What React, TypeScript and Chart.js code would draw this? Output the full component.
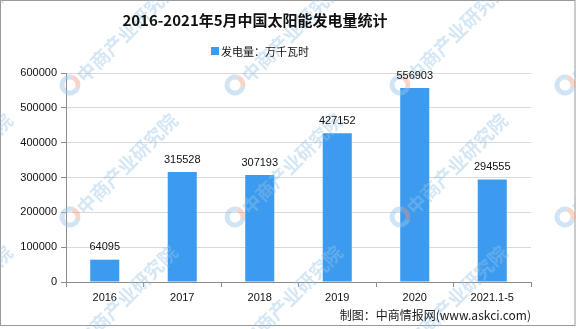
import React, { useEffect, useRef } from "react";
import { Chart, registerables } from "chart.js";

Chart.register(...registerables);

const categories = ["2016", "2017", "2018", "2019", "2020", "2021.1-5"];
const generation = [64095, 315528, 307193, 427152, 556903, 294555];
const yMax = 600000;
const yStep = 100000;
const titleText = "2016-2021年5月中国太阳能发电量统计";
const legendText = "发电量：万千瓦时";
const sourceText = "制图：中商情报网(www.askci.com)";
const seriesName = "发电量";
const watermarkText = "中商产业研究院";

const BAR_COLOR = "#3d9bef";
const NUM_FONT = '11px "Liberation Sans", Arial, sans-serif';
const CJK = '"Noto Sans CJK SC", "Noto Sans", sans-serif';

function drawWatermarks(ctx: CanvasRenderingContext2D) {
  ctx.save();
  for (let i = -1; i <= 3; i++) {
    for (let j = 0; j <= 2; j++) {
      const lx = 70 + 165 * i;
      const ly = 85 + 132 * j;
      // logo ring
      ctx.lineWidth = 5;
      ctx.strokeStyle = "rgba(150,195,230,0.45)";
      ctx.beginPath();
      ctx.arc(lx, ly, 8, Math.PI * 0.1, Math.PI * 1.6);
      ctx.stroke();
      ctx.strokeStyle = "rgba(240,150,120,0.4)";
      ctx.beginPath();
      ctx.arc(lx, ly, 8, Math.PI * 1.6, Math.PI * 2.1);
      ctx.stroke();
      // text
      ctx.save();
      ctx.translate(lx + 10, ly - 6);
      ctx.rotate(-Math.PI / 4);
      ctx.fillStyle = "rgba(150,195,230,0.4)";
      ctx.font = `bold 19px ${CJK}`;
      ctx.textAlign = "left";
      ctx.textBaseline = "middle";
      ctx.fillText(watermarkText, 0, 0);
      ctx.restore();
    }
  }
  ctx.restore();
}

const decorPlugin = {
  id: "decor",
  beforeDraw(chart: any) {
    const { ctx, width } = chart;
    ctx.save();
    ctx.fillStyle = "#ffffff";
    ctx.fillRect(0, 0, width, chart.height);
    ctx.strokeStyle = "#9a9a9a";
    ctx.lineWidth = 1;
    ctx.strokeRect(0.5, 0.5, width - 1.5, 325);
    ctx.restore();
  },
  afterDatasetsDraw(chart: any) {
    const { ctx } = chart;
    drawWatermarks(ctx);
    const meta = chart.getDatasetMeta(0);
    const data = chart.data.datasets[0].data;
    ctx.save();
    ctx.fillStyle = "#111";
    ctx.font = NUM_FONT;
    ctx.textAlign = "center";
    ctx.textBaseline = "bottom";
    meta.data.forEach((bar: any, i: number) => {
      ctx.fillText(String(data[i]), bar.x, bar.y - 7);
    });
    ctx.restore();
  },
  afterDraw(chart: any) {
    const { ctx } = chart;
    ctx.save();
    // title
    ctx.fillStyle = "#111";
    ctx.font = `bold 15px ${CJK}`;
    ctx.textAlign = "center";
    ctx.textBaseline = "middle";
    ctx.fillText(titleText, 255, 20);
    // legend
    ctx.fillStyle = BAR_COLOR;
    ctx.fillRect(211, 47, 8, 8);
    ctx.fillStyle = "#111";
    ctx.font = `11px ${CJK}`;
    ctx.textAlign = "left";
    ctx.fillText(legendText, 221, 51.5);
    // source
    ctx.font = `12px ${CJK}`;
    ctx.textAlign = "right";
    ctx.fillStyle = "#1a1a1a";
    ctx.fillText(sourceText, 531, 315);
    ctx.restore();
  },
};

export default function App() {
  const ref = useRef<HTMLCanvasElement>(null);
  useEffect(() => {
    document.body.style.margin = "0";
    const chart = new Chart(ref.current!, {
      type: "bar",
      data: {
        labels: categories,
        datasets: [
          {
            label: seriesName,
            data: generation,
            backgroundColor: BAR_COLOR,
            borderWidth: 0,
            barPercentage: 0.375,
            categoryPercentage: 1,
          },
        ],
      },
      options: {
        animation: false,
        responsive: false,
        devicePixelRatio: 1,
        layout: { padding: { left: 0, right: 45, top: 73, bottom: 22 } },
        plugins: {
          legend: { display: false },
          title: { display: false },
          tooltip: { enabled: false },
        },
        scales: {
          x: {
            afterFit(scale: any) {
              scale.height = 25;
            },
            grid: {
              drawOnChartArea: false,
              drawTicks: true,
              tickLength: 5,
              tickColor: "#8c8c8c",
              offset: true,
            },
            border: { color: "#8c8c8c" },
            ticks: {
              color: "#111",
              font: { family: '"Liberation Sans", Arial, sans-serif', size: 11 },
              padding: 4,
              maxRotation: 0,
              autoSkip: false,
            },
          },
          y: {
            min: 0,
            max: yMax,
            afterFit(scale: any) {
              scale.width = 66;
            },
            grid: {
              color: "#d9d9d9",
              tickColor: "#8c8c8c",
              tickLength: 5,
            },
            border: { color: "#8c8c8c" },
            ticks: {
              stepSize: yStep,
              color: "#111",
              font: { family: '"Liberation Sans", Arial, sans-serif', size: 11 },
              padding: 4,
              callback: (v: any) => String(v),
            },
          },
        },
      },
      plugins: [decorPlugin],
    });
    return () => chart.destroy();
  }, []);
  return (
    <div style={{ position: "absolute", left: 0, top: 0, width: 576, height: 329 }}>
      <canvas ref={ref} width={576} height={329} />
    </div>
  );
}
